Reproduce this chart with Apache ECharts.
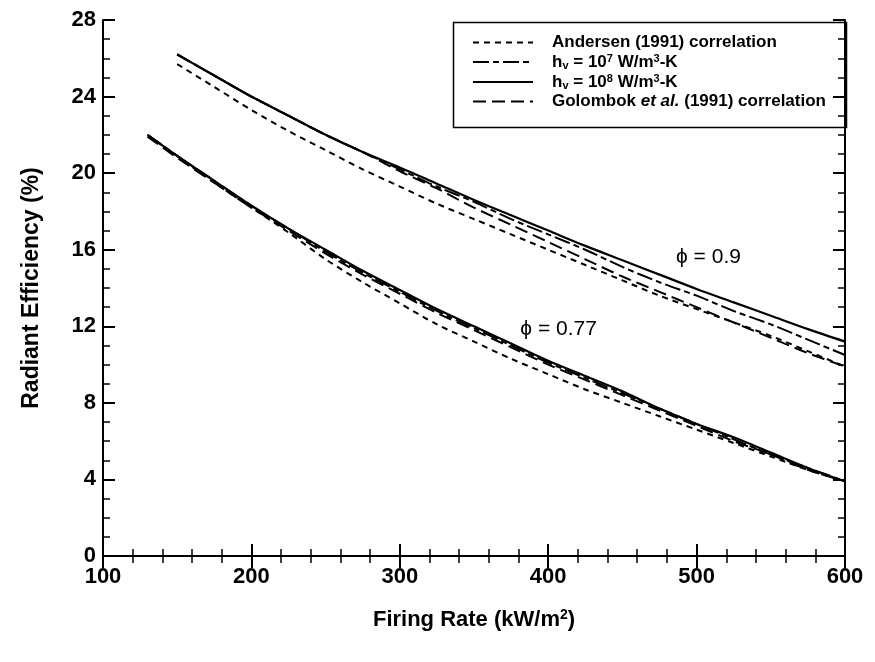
<!DOCTYPE html>
<html>
<head>
<meta charset="utf-8">
<script src="https://cdn.jsdelivr.net/npm/echarts@6/dist/echarts.min.js"></script>
<style>
html,body{margin:0;padding:0;background:#fff;}
#main{width:875px;height:662px;}
</style>
</head>
<body>
<div id="main"></div>
<script>
// ---- data ----
var xsHigh = [150,175,200,225,250,275,300,325,350,375,400,425,450,475,500,525,550,575,600];
var andersenHigh = [25.7,24.5,23.3,22.2,21.2,20.2,19.3,18.4,17.6,16.8,16.0,15.2,14.4,13.6,12.9,12.2,11.5,10.7,9.9];
var hv7High      = [26.2,25.1,24.0,23.0,22.0,21.1,20.2,19.3,18.5,17.6,16.8,16.0,15.1,14.3,13.6,12.8,12.1,11.3,10.5];
var hv8High      = [26.2,25.1,24.0,23.0,22.0,21.1,20.3,19.45,18.6,17.8,17.0,16.2,15.45,14.7,13.95,13.25,12.55,11.85,11.2];
var golombokHigh = [26.2,25.1,24.0,23.0,22.0,21.1,20.1,19.2,18.2,17.3,16.4,15.5,14.6,13.8,13.0,12.2,11.4,10.6,9.9];

var xsLow = [130,150,175,200,225,250,275,300,325,350,375,400,425,450,475,500,525,550,575,600];
var andersenLow = [22.0,20.9,19.5,18.2,16.9,15.5,14.3,13.2,12.1,11.2,10.3,9.5,8.7,8.0,7.3,6.6,5.9,5.2,4.5,3.9];
var hv7Low      = [22.0,20.9,19.6,18.3,17.1,15.9,14.8,13.8,12.8,11.9,11.0,10.1,9.3,8.5,7.7,6.9,6.1,5.3,4.6,3.9];
var hv8Low      = [22.0,20.9,19.6,18.3,17.1,16.0,14.9,13.9,12.9,12.0,11.1,10.2,9.4,8.6,7.7,6.9,6.2,5.4,4.6,3.9];
var golombokLow = [21.9,20.8,19.5,18.2,17.0,15.8,14.7,13.7,12.7,11.8,10.9,10.0,9.2,8.4,7.6,6.8,6.0,5.3,4.5,3.9];

var seriesNames = ['Andersen (1991) correlation', 'hv = 1e7 W/m3-K', 'hv = 1e8 W/m3-K', 'Golombok et al. (1991) correlation'];
var annotations = [
  {text: 'ϕ = 0.9', x: 508, y: 15.6},
  {text: 'ϕ = 0.77', x: 407, y: 11.85}
];

// ---- styles ----
var FONT = 'Liberation Sans, Arial, sans-serif';
var styleFor = {};
styleFor[seriesNames[0]] = {type: [6, 5], width: 2};
styleFor[seriesNames[1]] = {type: [16, 4, 6, 4], width: 2};
styleFor[seriesNames[2]] = {type: 'solid', width: 2.2};
styleFor[seriesNames[3]] = {type: [13, 6], width: 2};

function pairs(xs, ys) { return xs.map(function (x, i) { return [x, ys[i]]; }); }

function mkSeries(name, xs, ys, extra) {
  var s = {
    name: name, type: 'line', data: pairs(xs, ys),
    symbol: 'none', smooth: 0.3, silent: true,
    lineStyle: {color: '#000', width: styleFor[name].width, type: styleFor[name].type},
    itemStyle: {color: '#000'}, z: name === seriesNames[2] ? 5 : 3
  };
  if (extra) for (var k in extra) s[k] = extra[k];
  return s;
}

var mp = function (a) {
  return {
    symbol: 'rect', symbolSize: 0,
    label: {show: true, position: 'inside', formatter: a.text, color: '#000',
            fontFamily: FONT, fontSize: 21, fontWeight: 'normal'},
    data: [{coord: [a.x, a.y]}]
  };
};

var series = [
  mkSeries(seriesNames[0], xsHigh, andersenHigh),
  mkSeries(seriesNames[1], xsHigh, hv7High),
  mkSeries(seriesNames[2], xsHigh, hv8High, {markPoint: mp(annotations[0])}),
  mkSeries(seriesNames[3], xsHigh, golombokHigh),
  mkSeries(seriesNames[0], xsLow, andersenLow),
  mkSeries(seriesNames[1], xsLow, hv7Low),
  mkSeries(seriesNames[2], xsLow, hv8Low, {markPoint: mp(annotations[1])}),
  mkSeries(seriesNames[3], xsLow, golombokLow)
];

var legendText = {};
legendText[seriesNames[0]] = '{sp|}{b|Andersen (1991) correlation}';
legendText[seriesNames[1]] = '{sp|}{b|h}{sub|v}{b| = 10}{sup|7}{b| W/m}{sup|3}{b|-K}';
legendText[seriesNames[2]] = '{sp|}{b|h}{sub|v}{b| = 10}{sup|8}{b| W/m}{sup|3}{b|-K}';
legendText[seriesNames[3]] = '{sp|}{b|Golombok }{i|et al.}{b| (1991) correlation}';

var axisCommon = {
  axisLine: {show: true, lineStyle: {color: '#000', width: 2}},
  axisTick: {show: true, inside: true, length: 12, lineStyle: {color: '#000', width: 2}},
  splitLine: {show: false},
  minorSplitLine: {show: false}
};
function merge(a, b) { var o = {}; for (var k in a) o[k] = a[k]; for (var k2 in b) o[k2] = b[k2]; return o; }

var option = {
  animation: false,
  backgroundColor: '#fff',
  grid: {left: 103, right: 30, top: 20, bottom: 106, containLabel: false},
  xAxis: [
    merge(axisCommon, {
      type: 'value', min: 100, max: 600, interval: 100, position: 'bottom',
      minorTick: {show: true, splitNumber: 5, length: 7, lineStyle: {color: '#000', width: 1.5}},
      axisLabel: {color: '#000', fontFamily: FONT, fontSize: 22, fontWeight: 'bold', margin: 10},
      name: '{b|Firing Rate (kW/m}{sup|2}{b|)}', nameLocation: 'middle', nameGap: 52,
      nameTextStyle: {rich: {
        b: {fontFamily: FONT, fontSize: 22, fontWeight: 'bold', color: '#000', lineHeight: 24},
        sup: {fontFamily: FONT, fontSize: 14, fontWeight: 'bold', color: '#000', verticalAlign: 'top', lineHeight: 12}
      }}
    }),
    merge(axisCommon, {
      type: 'value', min: 100, max: 600, interval: 100, position: 'top',
      minorTick: {show: true, splitNumber: 5, length: 7, lineStyle: {color: '#000', width: 1.5}},
      axisLabel: {show: false}
    })
  ],
  yAxis: [
    merge(axisCommon, {
      type: 'value', min: 0, max: 28, interval: 4, position: 'left',
      minorTick: {show: true, splitNumber: 4, length: 7, lineStyle: {color: '#000', width: 1.5}},
      axisLabel: {color: '#000', fontFamily: FONT, fontSize: 22, fontWeight: 'bold', margin: 7},
      name: 'Radiant Efficiency (%)', nameLocation: 'middle', nameGap: 60,
      nameTextStyle: {color: '#000', fontFamily: FONT, fontSize: 23, fontWeight: 'bold'}
    }),
    merge(axisCommon, {
      type: 'value', min: 0, max: 28, interval: 4, position: 'right',
      minorTick: {show: true, splitNumber: 4, length: 7, lineStyle: {color: '#000', width: 1.5}},
      axisLabel: {show: false}
    })
  ],
  legend: {
    orient: 'vertical', left: 472, top: 34, padding: 0,
    itemWidth: 60, itemHeight: 14, itemGap: 2,
    data: seriesNames,
    selectedMode: false,
    itemStyle: {opacity: 0},
    formatter: function (n) { return legendText[n]; },
    textStyle: {
      color: '#000',
      rich: {
        sp: {width: 14},
        b: {fontFamily: FONT, fontSize: 17, fontWeight: 'bold', color: '#000', lineHeight: 18},
        i: {fontFamily: FONT, fontSize: 17, fontWeight: 'bold', fontStyle: 'italic', color: '#000', lineHeight: 18},
        sup: {fontFamily: FONT, fontSize: 11, fontWeight: 'bold', color: '#000', verticalAlign: 'top', lineHeight: 9},
        sub: {fontFamily: FONT, fontSize: 11, fontWeight: 'bold', color: '#000', verticalAlign: 'bottom', lineHeight: 9}
      }
    }
  },
  graphic: [{
    type: 'rect', left: 451, top: 20, z: 10, silent: true,
    shape: {width: 393, height: 105},
    style: {fill: null, stroke: '#000', lineWidth: 1.5}
  }],
  series: series
};

var chart = echarts.init(document.getElementById('main'), null, {renderer: 'canvas'});
chart.setOption(option);
</script>
</body>
</html>
